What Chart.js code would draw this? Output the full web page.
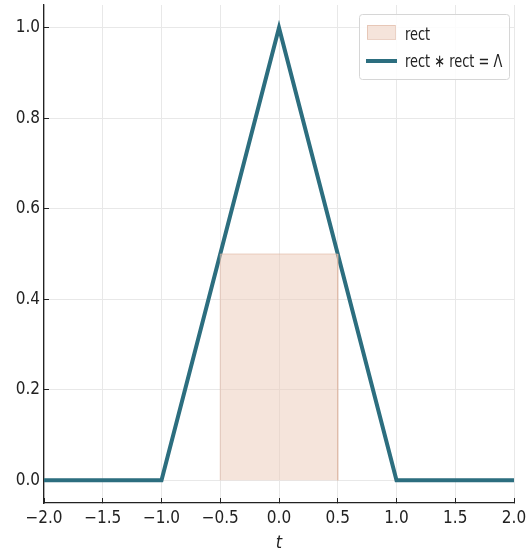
<!DOCTYPE html>
<html lang="en">
<head>
    <meta charset="UTF-8">
    <title>Triangle as rect * rect</title>
    <script src="https://cdn.jsdelivr.net/npm/chart.js"></script>
    <style>
        html, body { margin: 0; padding: 0; background: #fff; }
        #wrap { width: 529px; height: 558px; }
    </style>
</head>
<body>
    <div id="wrap"><canvas id="convChart"></canvas></div>
    <script>
        // rect pulse and its self-convolution (the triangle)
        const rectT = [-0.5, -0.5, 0.5, 0.5];
        const rectY = [0, 0.5, 0.5, 0];
        const triT = [-2, -1, 0, 1, 2];
        const triY = [0, 0, 1, 0, 0];
        const xTicks = [-2, -1.5, -1, -0.5, 0, 0.5, 1, 1.5, 2];
        const yTicks = [0, 0.2, 0.4, 0.6, 0.8, 1.0];
        const labels = ['rect', 'rect \u2217 rect = \u039B'];

        const FAMILY = "'DejaVu Sans Condensed', 'DejaVu Sans', sans-serif";
        const teal = '#2c6e7f';
        const peachFill = 'rgba(236, 204, 186, 0.52)';
        const peachEdge = 'rgba(222, 180, 160, 0.6)';

        const toPts = (xs, ys) => xs.map((x, i) => ({ x: x, y: ys[i] }));
        const fmt = v => v.toFixed(1).replace('-', '\u2212');

        // legend box drawn inside the plot area, upper right
        const innerLegend = {
            id: 'innerLegend',
            afterDraw(chart) {
                const ctx = chart.ctx;
                const x = 359, y = 14, w = 150, h = 65;
                ctx.save();
                ctx.fillStyle = 'rgba(255,255,255,0.85)';
                ctx.strokeStyle = '#d6d6d6';
                ctx.lineWidth = 1;
                ctx.beginPath();
                ctx.roundRect(x + 0.5, y + 0.5, w, h, 3);
                ctx.fill();
                ctx.stroke();

                ctx.fillStyle = peachFill;
                ctx.strokeStyle = peachEdge;
                ctx.fillRect(367, 25, 28, 14);
                ctx.strokeRect(367.5, 25.5, 28, 14);

                ctx.strokeStyle = teal;
                ctx.lineWidth = 4;
                ctx.beginPath();
                ctx.moveTo(366, 61);
                ctx.lineTo(397, 61);
                ctx.stroke();

                // tall, narrow legend text
                ctx.fillStyle = '#222';
                ctx.font = 'normal condensed 18px ' + FAMILY;
                ctx.textBaseline = 'middle';
                [35, 62].forEach((ty, i) => {
                    ctx.save();
                    ctx.translate(405, ty);
                    ctx.scale(0.8, 1);
                    ctx.fillText(labels[i], 0, 0);
                    ctx.restore();
                });
                ctx.restore();
            }
        };

        const tickFont = { family: FAMILY, size: 17, weight: 'condensed' };

        new Chart(document.getElementById('convChart'), {
            type: 'line',
            data: {
                datasets: [{
                    label: labels[0],
                    data: toPts(rectT, rectY),
                    backgroundColor: peachFill,
                    borderColor: peachEdge,
                    borderWidth: 1,
                    fill: 'origin',
                    pointRadius: 0,
                    tension: 0
                }, {
                    label: labels[1],
                    data: toPts(triT, triY),
                    borderColor: teal,
                    borderWidth: 4,
                    fill: false,
                    pointRadius: 0,
                    tension: 0
                }]
            },
            options: {
                responsive: true,
                maintainAspectRatio: false,
                animation: false,
                layout: { padding: { top: 5, right: 15, left: 0, bottom: 0 } },
                plugins: { legend: { display: false }, tooltip: { enabled: false } },
                scales: {
                    x: {
                        type: 'linear',
                        min: -2, max: 2,
                        afterBuildTicks: s => { s.ticks = xTicks.map(v => ({ value: v })); },
                        afterFit: s => { s.height = 55; s.paddingLeft = 0; s.paddingRight = 0; },
                        grid: { color: '#e8e8e8', tickColor: '#222', tickLength: -5 },
                        border: { color: '#222', width: 1.3 },
                        ticks: {
                            color: '#222', padding: 10, maxRotation: 0,
                            font: tickFont,
                            callback: v => fmt(v)
                        },
                        title: {
                            display: true, text: 't', color: '#222', padding: { top: 10 },
                            font: { family: FAMILY, size: 18, style: 'italic' }
                        }
                    },
                    y: {
                        type: 'linear',
                        min: -0.05, max: 1.05,
                        afterBuildTicks: s => { s.ticks = yTicks.map(v => ({ value: v })); },
                        afterFit: s => { s.width = 44; s.paddingTop = 0; s.paddingBottom = 0; },
                        grid: { color: '#e8e8e8', tickColor: '#222', tickLength: -5 },
                        border: { color: '#222', width: 1.3 },
                        ticks: {
                            color: '#222', padding: 9,
                            font: tickFont,
                            callback: v => fmt(v)
                        }
                    }
                }
            },
            plugins: [innerLegend]
        });
    </script>
</body>
</html>
